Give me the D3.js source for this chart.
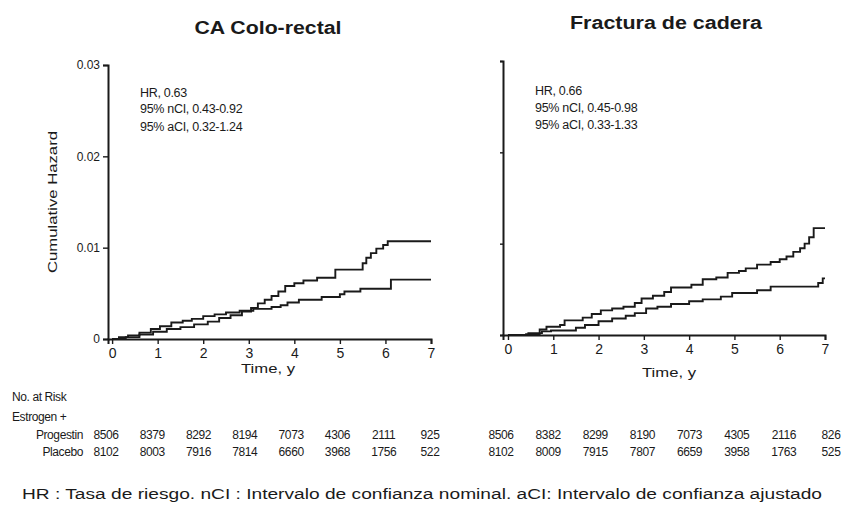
<!DOCTYPE html>
<html><head><meta charset="utf-8">
<script src="https://cdn.jsdelivr.net/npm/d3@7"></script>
<style>
body{margin:0;background:#fff;}
svg text{font-family:"Liberation Sans",Arial,sans-serif;fill:#1a1a1a;}
</style></head>
<body><svg id="c" width="841" height="507"></svg>
<script>
// ---------- data ----------
const panelTitles = ["CA Colo-rectal", "Fractura de cadera"];
const annotLeft = ["HR, 0.63", "95% nCI, 0.43-0.92", "95% aCI, 0.32-1.24"];
const annotRight = ["HR, 0.66", "95% nCI, 0.45-0.98", "95% aCI, 0.33-1.33"];
const yTicks = [0, 0.01, 0.02, 0.03];
const yTickLabels = ["0", "0.01", "0.02", "0.03"];
const xTicks = [0, 1, 2, 3, 4, 5, 6, 7];

// Colorectal cancer: Estrogen + Progestin
const crcEPTime = [0, 0.15, 0.35, 0.6, 0.85, 1.05, 1.3, 1.55, 1.75, 2.0, 2.25, 2.5, 2.8, 3.1, 3.5, 3.7, 3.85, 4.1, 4.6, 5.0, 5.1, 5.45, 6.12, 7];
const crcEPVal  = [0, 0.0002, 0.0004, 0.0007, 0.0011, 0.0014, 0.0018, 0.0020, 0.0022, 0.0025, 0.0027, 0.0029, 0.0031, 0.0033, 0.0035, 0.0037, 0.0040, 0.0043, 0.0046, 0.0049, 0.0052, 0.0055, 0.0065, 0.0065];
// Colorectal cancer: Placebo
const crcPlTime = [0, 0.3, 0.6, 0.9, 1.2, 1.5, 1.8, 2.1, 2.35, 2.6, 2.85, 3.05, 3.2, 3.35, 3.5, 3.65, 3.8, 4.0, 4.2, 4.5, 4.9, 5.5, 5.58, 5.68, 5.8, 5.95, 6.05, 6.15, 7];
const crcPlVal  = [0, 0.0002, 0.0005, 0.0008, 0.0011, 0.0013, 0.0016, 0.0019, 0.0023, 0.0026, 0.0030, 0.0034, 0.0039, 0.0043, 0.0047, 0.0052, 0.0058, 0.0061, 0.0064, 0.0067, 0.0076, 0.0083, 0.0089, 0.0094, 0.0099, 0.0103, 0.0107, 0.0107, 0.0107];
// Hip fracture: Estrogen + Progestin
const hipEPTime = [0, 0.45, 0.75, 0.95, 1.5, 1.7, 2.0, 2.3, 2.6, 2.8, 3.05, 3.3, 3.6, 4.0, 4.3, 4.7, 4.95, 5.5, 5.8, 6.85, 6.95, 7];
const hipEPVal  = [0, 0.0002, 0.0004, 0.0005, 0.0008, 0.0011, 0.0015, 0.0018, 0.0021, 0.0024, 0.0029, 0.0031, 0.0034, 0.0037, 0.0039, 0.0042, 0.0046, 0.0049, 0.0053, 0.0057, 0.0062, 0.0062];
// Hip fracture: Placebo
const hipPlTime = [0, 0.4, 0.7, 0.85, 1.15, 1.25, 1.65, 1.85, 2.05, 2.3, 2.55, 2.8, 2.95, 3.2, 3.45, 3.6, 4.05, 4.3, 4.6, 4.85, 5.1, 5.25, 5.5, 5.8, 6.0, 6.15, 6.3, 6.45, 6.55, 6.65, 6.75, 7];
const hipPlVal  = [0, 0.0001, 0.0006, 0.0009, 0.0011, 0.0016, 0.0019, 0.0023, 0.0027, 0.0029, 0.0031, 0.0035, 0.0040, 0.0043, 0.0047, 0.0052, 0.0055, 0.0061, 0.0063, 0.0068, 0.0070, 0.0073, 0.0077, 0.0080, 0.0083, 0.0086, 0.0091, 0.0095, 0.0100, 0.0107, 0.0117, 0.0117];

// Number at risk
const riskHeader = ["No. at Risk", "Estrogen +"];
const riskGroups = ["Progestin", "Placebo"];
const crcRiskEP = ["8506", "8379", "8292", "8194", "7073", "4306", "2111", "925"];
const crcRiskPl = ["8102", "8003", "7916", "7814", "6660", "3968", "1756", "522"];
const hipRiskEP = ["8506", "8382", "8299", "8190", "7073", "4305", "2116", "826"];
const hipRiskPl = ["8102", "8009", "7915", "7807", "6659", "3958", "1763", "525"];

const footnote = "HR : Tasa de riesgo.  nCI : Intervalo de confianza nominal. aCI: Intervalo de confianza ajustado";
const yTitle = "Cumulative Hazard";
const xTitle = "Time, y";

// ---------- drawing ----------
const svg = d3.select("#c");
const ink = "#1a1a1a";

const panels = [
  {title: panelTitles[0], tx: 268, ty: 34, tw: 147,
   x: d3.scaleLinear().domain([-0.09, 7]).range([108, 431]),
   y: d3.scaleLinear().domain([0, 0.03]).range([339, 65]),
   labels: true, annot: annotLeft, ax: 140, ay: [97, 113, 131],
   series: [[crcEPTime, crcEPVal], [crcPlTime, crcPlVal]],
   risk: [crcRiskEP, crcRiskPl], riskX: d3.scaleLinear().domain([0, 7]).range([106, 430]),
   xt: 268, xty: 373},
  {title: panelTitles[1], tx: 666, ty: 29, tw: 192,
   x: d3.scaleLinear().domain([-0.11, 7]).range([503, 825]),
   y: d3.scaleLinear().domain([0, 0.03]).range([335, 61]),
   labels: false, annot: annotRight, ax: 535, ay: [95, 112, 129],
   series: [[hipEPTime, hipEPVal], [hipPlTime, hipPlVal]],
   risk: [hipRiskEP, hipRiskPl], riskX: d3.scaleLinear().domain([0, 7]).range([501, 831]),
   xt: 669, xty: 377}
];

panels.forEach(p => {
  const g = svg.append("g");
  g.append("text").attr("x", p.tx).attr("y", p.ty).attr("text-anchor", "middle")
    .attr("font-size", 18).attr("font-weight", "bold")
    .attr("textLength", p.tw).attr("lengthAdjust", "spacingAndGlyphs").text(p.title);

  // y axis
  const yAx = d3.axisLeft(p.y).tickValues(yTicks).tickSizeOuter(0)
    .tickSize(p.labels ? 5 : 3).tickPadding(3)
    .tickFormat((d, i) => p.labels ? yTickLabels[i] : "");
  const yg = g.append("g").attr("transform", `translate(${p.x.range()[0]},0)`).call(yAx);
  yg.select(".domain").attr("stroke", ink).attr("stroke-width", 2);
  yg.selectAll(".tick line").attr("stroke", ink).attr("stroke-width", 1.4);
  yg.selectAll(".tick text").attr("font-size", 12).attr("fill", ink)
    .style("font-family", "'Liberation Sans',Arial,sans-serif");

  // x axis
  const xAx = d3.axisBottom(p.x).tickValues(xTicks).tickSizeOuter(0).tickSize(5).tickPadding(4)
    .tickFormat(d3.format("d"));
  const xg = g.append("g").attr("transform", `translate(0,${p.y(0)})`).call(xAx);
  xg.select(".domain").attr("stroke", ink).attr("stroke-width", 2);
  xg.selectAll(".tick line").attr("stroke", ink).attr("stroke-width", 1.4);
  xg.selectAll(".tick text").attr("font-size", 14).attr("fill", ink)
    .style("font-family", "'Liberation Sans',Arial,sans-serif");

  g.append("text").attr("x", p.xt).attr("y", p.xty).attr("text-anchor", "middle")
    .attr("font-size", 12).attr("textLength", 54).attr("lengthAdjust", "spacingAndGlyphs").text(xTitle);

  // annotations
  p.annot.forEach((t, i) => {
    g.append("text").attr("x", p.ax).attr("y", p.ay[i]).attr("font-size", 12.5)
      .attr("letter-spacing", -0.3).text(t);
  });

  // curves
  const line = d3.line().curve(d3.curveStepAfter).x(d => p.x(d[0])).y(d => p.y(d[1]));
  p.series.forEach(([ts, vs]) => {
    const pts = ts.map((t, i) => [t, vs[i]]);
    g.append("path").datum(pts).attr("d", line).attr("fill", "none")
      .attr("stroke", ink).attr("stroke-width", 1.9);
  });

  // risk table
  const rowY = [439, 456];
  p.risk.forEach((row, r) => {
    row.forEach((v, i) => {
      g.append("text").attr("x", p.riskX(i)).attr("y", rowY[r]).attr("text-anchor", "middle")
        .attr("font-size", 12).attr("letter-spacing", -0.4).text(v);
    });
  });
});

// y title
svg.append("text").attr("transform", "translate(57,202) rotate(-90)").attr("text-anchor", "middle")
  .attr("font-size", 13).attr("textLength", 142).attr("lengthAdjust", "spacingAndGlyphs").text(yTitle);

// risk labels
svg.append("text").attr("x", 12).attr("y", 401).attr("font-size", 12).attr("letter-spacing", -0.4).text(riskHeader[0]);
svg.append("text").attr("x", 12).attr("y", 421).attr("font-size", 12).attr("letter-spacing", -0.4).text(riskHeader[1]);
svg.append("text").attr("x", 83).attr("y", 439).attr("text-anchor", "end").attr("font-size", 12).attr("letter-spacing", -0.4).text(riskGroups[0]);
svg.append("text").attr("x", 83).attr("y", 456).attr("text-anchor", "end").attr("font-size", 12).attr("letter-spacing", -0.4).text(riskGroups[1]);

// footnote
svg.append("text").attr("x", 22).attr("y", 499).attr("font-size", 14)
  .attr("textLength", 800).attr("lengthAdjust", "spacingAndGlyphs").text(footnote);
</script>
</body></html>
